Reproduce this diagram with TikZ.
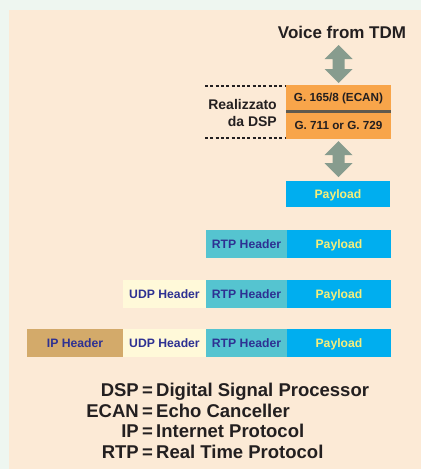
\documentclass[tikz,border=0pt]{standalone}
\usepackage{fontspec}
\setmainfont{Liberation Sans}
\usetikzlibrary{calc}

\definecolor{outerbg}{HTML}{EEF6F0}
\definecolor{peach}{HTML}{FCEAD6}
\definecolor{dspor}{HTML}{F8A54A}
\definecolor{divid}{HTML}{5F5A4E}
\definecolor{arrowgr}{HTML}{879C8E}
\definecolor{paycy}{HTML}{00AEEF}
\definecolor{payyel}{HTML}{F6EE7A}
\definecolor{rtpcy}{HTML}{55C4D0}
\definecolor{hdrblue}{HTML}{2E3192}
\definecolor{udpcr}{HTML}{FFF9D9}
\definecolor{iptan}{HTML}{D3AA6A}
\definecolor{inkblk}{HTML}{231F20}

\tikzset{
  cell/.style={inner sep=0pt, outer sep=0pt, anchor=north west,
    minimum height=28pt, text height=8.6pt, text depth=0pt,
    font=\fontsize{12.2}{14}\selectfont\bfseries},
  payload/.style={cell, fill=paycy, text=payyel, minimum width=104pt},
  rtphdr/.style={cell, fill=rtpcy, text=hdrblue, minimum width=81pt},
  udphdr/.style={cell, fill=udpcr, text=hdrblue, minimum width=83pt},
  iphdr/.style={cell, fill=iptan, text=hdrblue, minimum width=96pt},
  codec/.style={inner sep=0pt, outer sep=0pt, anchor=north west,
    fill=dspor, text=inkblk, minimum width=105pt, text height=8.2pt,
    font=\fontsize{11.7}{13}\selectfont\bfseries},
  fatarrow/.style={fill=arrowgr},
  dotline/.style={draw=inkblk, line width=1.2pt, dash pattern=on 3pt off 2.3pt},
  legendtxt/.style={inner sep=0pt, text=inkblk,
    font=\fontsize{18.5}{20.5}\selectfont\bfseries},
}

% double-headed block arrow between an upper and a lower point
\newcommand\blockarrow[2]{%
  \fill[fatarrow] let \p1=(#1), \p2=(#2) in
    (\x1,\y1) -- (\x1+14pt,\y1-14pt) -- (\x1+6pt,\y1-14pt)
    -- (\x1+6pt,\y2+14pt) -- (\x1+14pt,\y2+14pt) -- (\x1,\y2)
    -- (\x1-14pt,\y2+14pt) -- (\x1-6pt,\y2+14pt) -- (\x1-6pt,\y1-14pt)
    -- (\x1-14pt,\y1-14pt) -- cycle;}

\begin{document}
\begin{tikzpicture}[x=1pt, y=-1pt]
  \useasboundingbox (0,0) rectangle (421,469);
  \fill[outerbg] (0,0) rectangle (421,469);
  \fill[peach] (9,10) rectangle (421,469);

  % source of the voice stream
  \node[text=inkblk, inner sep=0pt, font=\fontsize{17}{20}\selectfont\bfseries]
    (voice) at (342,32) {Voice from TDM};

  % DSP stage: echo canceller above the codec
  \node[codec, minimum height=25pt, text depth=-5pt] (g165) at (286,85) {G. 165/8 (ECAN)};
  \node[codec, minimum height=26pt, text depth=2pt] (g711) at (286,113) {G. 711 or G. 729};
  \fill[divid] (g165.south west) rectangle (g711.north east);

  % bracket marking the DSP part
  \coordinate (d1) at (205,86);
  \coordinate (d2) at (205,138);
  \draw[dotline] (d1) -- (d1 -| g165.west);
  \draw[dotline] (d2) -- (d2 -| g711.west);
  \node[anchor=east, align=right, inner sep=0pt, text=inkblk,
    font=\fontsize{14}{17}\selectfont\bfseries] (dsplabel) at (277,112.5)
    {Realizzato\\da DSP};

  % encoded payload
  \node[payload, minimum height=26pt] (pay0) at (286,181) {Payload};

  % arrows between the stages
  \coordinate (a1top) at (338.5,45);
  \coordinate (a1bot) at ($(g165.north)+(0,-2)$);
  \blockarrow{a1top}{a1bot}
  \coordinate (a2top) at ($(g711.south)+(0,2)$);
  \coordinate (a2bot) at ($(pay0.north)+(0,-4)$);
  \blockarrow{a2top}{a2bot}

  % RTP encapsulation
  \node[rtphdr] (rtp1) at (206,230) {RTP Header};
  \node[payload] (pay1) at (287,230) {Payload};

  % UDP encapsulation
  \node[udphdr] (udp2) at (123,280) {UDP Header};
  \node[rtphdr] (rtp2) at (206,280) {RTP Header};
  \node[payload] (pay2) at (287,280) {Payload};

  % IP encapsulation
  \node[iphdr]  (ip3)  at (27,329)  {IP Header};
  \node[udphdr] (udp3) at (123,329) {UDP Header};
  \node[rtphdr] (rtp3) at (206,329) {RTP Header};
  \node[payload] (pay3) at (287,329) {Payload};

  % abbreviations
  \foreach \ab/\expl/\yy [count=\i] in
     {DSP/Digital Signal Processor/396.7,
      ECAN/Echo Canceller/417.3,
      IP/Internet Protocol/437.9,
      RTP/Real Time Protocol/458.5} {
    \node[legendtxt, anchor=base east] (abbr\i) at (139,\yy) {\ab};
    \node[legendtxt, anchor=base] (eq\i) at (147.5,\yy) {=};
    \node[legendtxt, anchor=base west] (mean\i) at (156,\yy) {\expl};
  }
\end{tikzpicture}
\end{document}
